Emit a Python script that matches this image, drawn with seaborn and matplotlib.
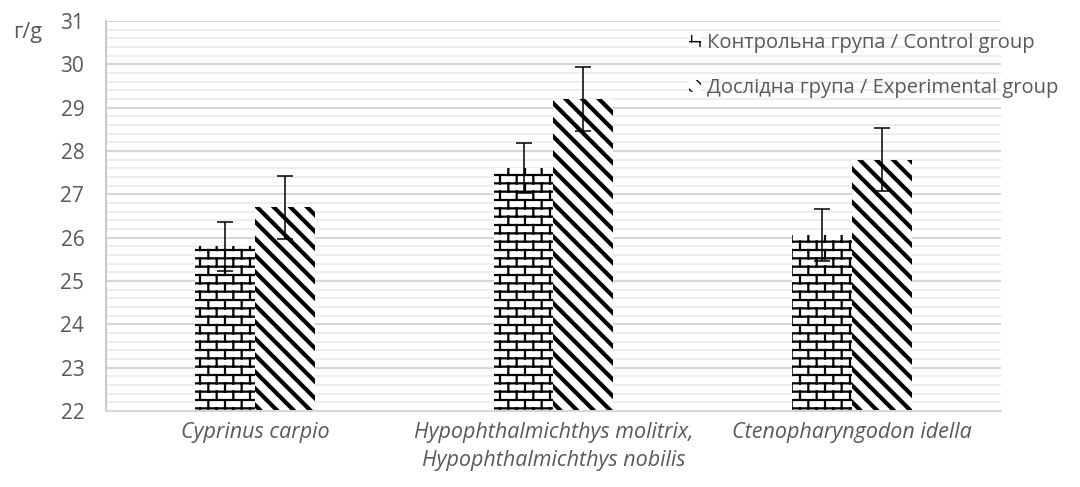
import numpy as np
import pandas as pd
import matplotlib
matplotlib.use("Agg")
import matplotlib.pyplot as plt
import matplotlib.hatch as mhatch
from matplotlib.path import Path
from matplotlib.patches import Patch
from matplotlib.ticker import MultipleLocator
import seaborn as sns

species = ["Cyprinus carpio",
           "Hypophthalmichthys molitrix,\nHypophthalmichthys nobilis",
           "Ctenopharyngodon idella"]
groups = ["Контрольна група / Control group",
          "Дослідна група / Experimental group"]
control_mean = [25.8, 27.6, 26.05]
control_err = [0.57, 0.58, 0.6]
exp_mean = [26.7, 29.2, 27.8]
exp_err = [0.73, 0.73, 0.72]

GREY = "#595959"


# brick hatch for the control bars ('+' is mapped to bricks)
class BrickHatch(mhatch.HatchPatternBase):
    def __init__(self, hatch, density):
        n = hatch.count("+")
        self.verts = []
        if n:
            rows = n * density
            cols = density
            h = 1.0 / rows
            w = 1.0 / cols
            for r in range(rows + 1):
                self.verts += [(0.0, r * h), (1.0, r * h)]
            for r in range(rows):
                if r % 2 == 0:
                    xs = [c * w for c in range(cols + 1)]
                else:
                    xs = [c * w + w / 2 for c in range(cols)]
                for x in xs:
                    self.verts += [(x, r * h), (x, (r + 1) * h)]
        self.num_vertices = len(self.verts)

    def set_vertices_and_codes(self, vertices, codes):
        vertices[:] = np.array(self.verts)
        codes[0::2] = Path.MOVETO
        codes[1::2] = Path.LINETO


mhatch._hatch_types = [BrickHatch, mhatch.NorthEastHatch, mhatch.SouthEastHatch]

df = pd.DataFrame({
    "species": species * 2,
    "group": [groups[0]] * 3 + [groups[1]] * 3,
    "value": control_mean + exp_mean,
})
errs = control_err + exp_err

sns.set_style("white")
plt.rcParams["font.family"] = ["Open Sans", "DejaVu Sans"]
plt.rcParams["hatch.color"] = "black"

fig = plt.figure(figsize=(10.8, 4.87), dpi=100)
ax = fig.add_axes([0.098, 0.156, 0.829, 0.801])

sns.barplot(data=df, x="species", y="value", hue="group", order=species,
            hue_order=groups, palette=["white", "white"], width=0.4,
            errorbar=None, edgecolor="black", linewidth=0, legend=False,
            ax=ax)

hatches = ["++", "\\\\"]
hlw = [1.6, 3.0]
bars = ax.patches[:6]
for i, p in enumerate(bars):
    g = i // 3
    p.set_hatch(hatches[g])
    if hasattr(p, "set_hatch_linewidth"):
        p.set_hatch_linewidth(hlw[g])
    x = p.get_x() + p.get_width() / 2
    ax.errorbar(x, p.get_height(), yerr=errs[i], color="black", lw=1.1,
                capsize=6, capthick=1.1, zorder=5)

ax.set_ylim(22, 31)
ax.set_xlim(-0.5, 2.5)
ax.yaxis.set_major_locator(MultipleLocator(1))
ax.yaxis.set_minor_locator(MultipleLocator(0.2))
ax.grid(axis="y", which="minor", color="#ececec", lw=1.3, zorder=0)
ax.grid(axis="y", which="major", color="#d6d6d6", lw=1.5, zorder=0)
ax.set_axisbelow(True)

for s in ["top", "right"]:
    ax.spines[s].set_visible(False)
ax.spines["left"].set_color("#bfbfbf")
ax.spines["bottom"].set_color("#d6d6d6")
ax.spines["left"].set_linewidth(1.2)
ax.spines["bottom"].set_linewidth(1.5)

ax.tick_params(axis="y", which="major", length=5.5, color="#bfbfbf",
               labelsize=15, labelcolor=GREY, pad=10)
ax.tick_params(axis="y", which="minor", length=0)
ax.tick_params(axis="x", length=0, labelsize=15.5, labelcolor=GREY, pad=8)
for t in ax.get_xticklabels():
    t.set_fontstyle("italic")
    t.set_linespacing(1.4)

ax.set_xlabel("")
ax.set_ylabel("")
fig.text(0.012, 0.934, "г/g", fontsize=15.5, color=GREY, va="center")

handles = [Patch(facecolor="white", edgecolor="black", linewidth=0,
                 hatch=h) for h in hatches]
leg = ax.legend(handles, groups, loc="upper left",
                bbox_to_anchor=(0.638, 1.0), frameon=False, fontsize=14.5,
                labelcolor=GREY, handlelength=0.6, handleheight=0.6,
                handletextpad=0.3, labelspacing=1.25, borderaxespad=0.2)

fig.savefig("out.png", dpi=100)
